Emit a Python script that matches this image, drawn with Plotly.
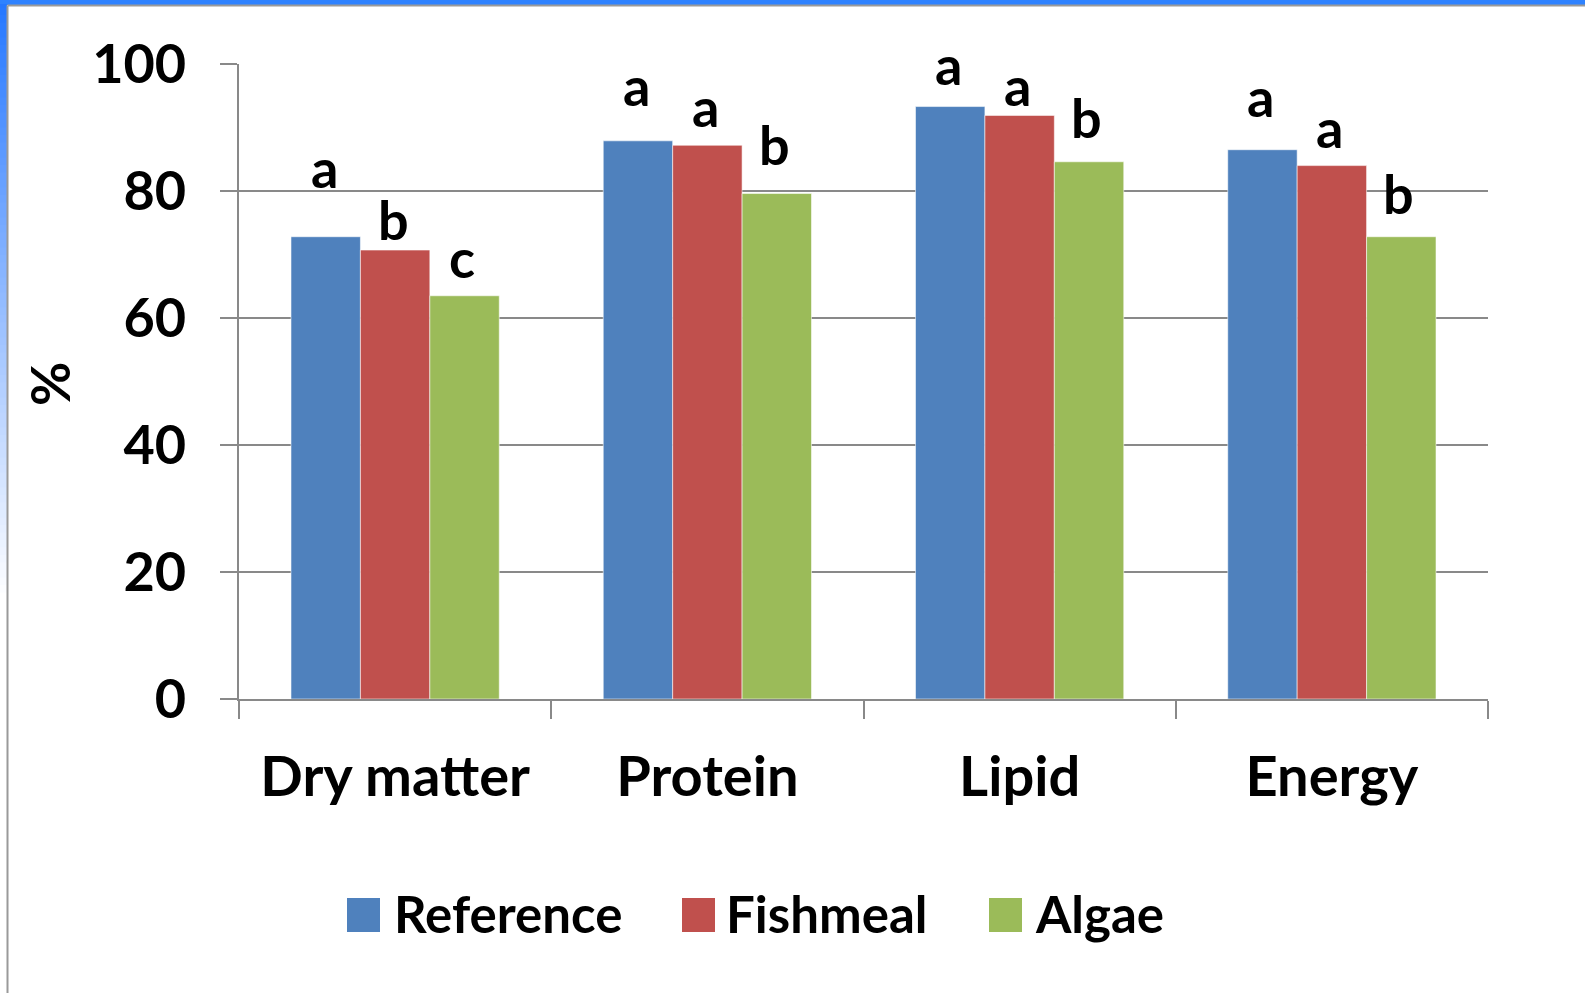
import plotly.graph_objects as go

# ---- data -------------------------------------------------------------
categories = ["Dry matter", "Protein", "Lipid", "Energy"]
series_names = ["Reference", "Fishmeal", "Algae"]
reference = [72.8, 87.9, 93.3, 86.5]
fishmeal = [70.7, 87.2, 91.9, 84.0]
algae = [63.5, 79.6, 84.6, 72.8]
letters_reference = ["a", "a", "a", "a"]
letters_fishmeal = ["b", "a", "a", "a"]
letters_algae = ["c", "b", "b", "b"]
y_ticks = [0, 20, 40, 60, 80, 100]

values = [reference, fishmeal, algae]
letters = [letters_reference, letters_fishmeal, letters_algae]

# ---- styling ----------------------------------------------------------
colors = ["#4F81BD", "#C0504D", "#9BBB59"]
FONT = "Lato"
GRID = "#898989"
W, H = 1585, 993
L, R, T, B = 239, 97, 64, 294
plot_w, plot_h = W - L - R, H - T - B

# pixel -> paper helpers for decorations outside the plotting area
def px(x):
    return (x - L) / plot_w

def py(y):
    return (H - B - y) / plot_h

# vertical offsets (px) of the significance letters above each bar
letter_lift = [[69, 55, 42, 53], [31, 39, 30, 38], [38, 49, 44, 43]]
bar_step = 69  # horizontal distance between bars in a group (px)

fig = go.Figure()
for name, vals, col in zip(series_names, values, colors):
    fig.add_trace(go.Bar(
        x=categories, y=vals, name=name,
        marker=dict(color=col, line=dict(color="rgba(255,255,255,0.55)", width=1)),
        showlegend=False, hoverinfo="x+y+name",
    ))

annotations = []
for si, (vals, lets) in enumerate(zip(values, letters)):
    for ci, cat in enumerate(categories):
        annotations.append(dict(
            x=cat, y=vals[ci], xref="x", yref="y", text=lets[ci],
            showarrow=False, xanchor="center", yanchor="middle",
            xshift=(si - 1) * bar_step - 2, yshift=letter_lift[si][ci],
            font=dict(family=FONT, size=54, color="black", weight="bold"),
        ))

# y-axis title
annotations.append(dict(
    x=px(49), y=py(384), xref="paper", yref="paper", text="%",
    textangle=-90, showarrow=False, xanchor="center", yanchor="middle",
    font=dict(family=FONT, size=54, color="black", weight="bold"),
))

shapes = []
# legend keys drawn below the chart
legend_box_x = [347, 682, 989]
legend_text_x = [392, 724, 1033]
for name, col, bx, tx in zip(series_names, colors, legend_box_x, legend_text_x):
    shapes.append(dict(type="rect", xref="paper", yref="paper",
                       x0=px(bx), x1=px(bx + 33), y0=py(932), y1=py(898),
                       fillcolor=col, line=dict(width=0), layer="above"))
    annotations.append(dict(
        x=px(tx), y=py(913), xref="paper", yref="paper", text=name,
        showarrow=False, xanchor="left", yanchor="middle",
        font=dict(family=FONT, size=51, color="black", weight="bold"),
    ))

# blue slide frame: solid strip on top, fading strip on the left
shapes.append(dict(type="rect", xref="paper", yref="paper",
                   x0=px(0), x1=px(W), y0=py(0), y1=py(5),
                   fillcolor="#2E82FF", line=dict(width=0), layer="below"))
steps = 80
fade_end = 600
for i in range(steps):
    y0 = i * fade_end / steps
    y1 = (i + 1) * fade_end / steps
    t = i / (steps - 1)
    r = int(38 + (255 - 38) * t)
    g = int(120 + (255 - 120) * t)
    shapes.append(dict(type="rect", xref="paper", yref="paper",
                       x0=px(0), x1=px(7), y0=py(y1 + 0.5), y1=py(max(y0, 4)),
                       fillcolor=f"rgb({r},{g},255)", line=dict(width=0), layer="below"))
# thin grey border lines
shapes.append(dict(type="line", xref="paper", yref="paper",
                   x0=px(7.5), x1=px(W), y0=py(5.5), y1=py(5.5),
                   line=dict(color="#9a9a9a", width=2)))
shapes.append(dict(type="line", xref="paper", yref="paper",
                   x0=px(7.5), x1=px(7.5), y0=py(5.5), y1=py(H),
                   line=dict(color="#9a9a9a", width=2)))

fig.update_layout(
    width=W, height=H,
    margin=dict(l=L, r=R, t=T, b=B, autoexpand=False),
    paper_bgcolor="white", plot_bgcolor="white",
    barmode="group", bargap=0.333, bargroupgap=0,
    annotations=annotations, shapes=shapes,
    xaxis=dict(
        showgrid=False, showline=True, linecolor=GRID, linewidth=2,
        ticks="outside", tickson="boundaries", ticklen=18, tickwidth=2, tickcolor=GRID,
        tickfont=dict(family=FONT, size=56, color="black", weight="bold"),
        ticklabelstandoff=28, automargin=False,
    ),
    yaxis=dict(
        range=[0, 100], tickvals=y_ticks, showgrid=True, gridcolor=GRID, gridwidth=2,
        zeroline=False, showline=True, linecolor=GRID, linewidth=2,
        ticks="outside", ticklen=17, tickwidth=2, tickcolor=GRID,
        tickfont=dict(family=FONT, size=54, color="black", weight="bold"),
        ticklabelstandoff=23, automargin=False,
    ),
)

fig.write_html("out.html")
